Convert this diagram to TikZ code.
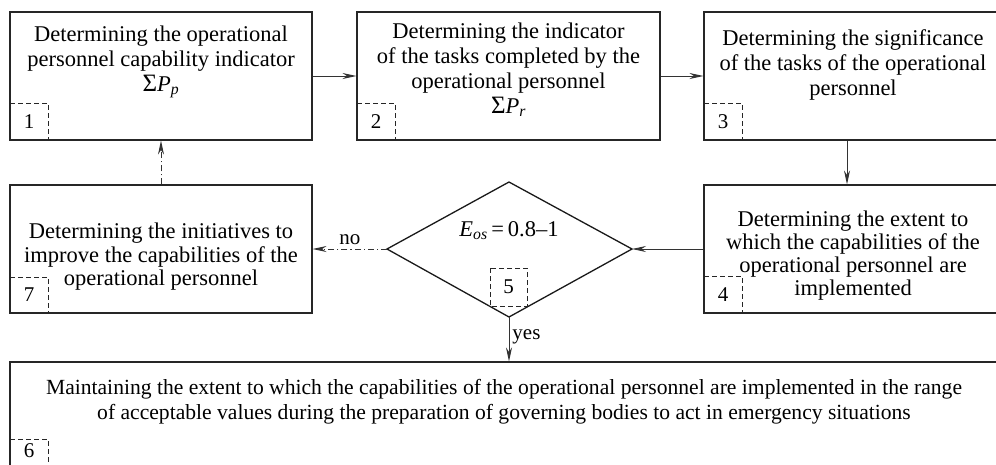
\documentclass[tikz,border=0pt]{standalone}
\usepackage{fontspec}
\setmainfont{Liberation Serif}
\usetikzlibrary{arrows.meta}
\tikzset{
  box/.style={draw=black!85, line width=1.1pt, inner sep=0pt, fill=none},
  txt/.style={align=center, inner sep=0pt, font=\fontsize{22.5}{25}\selectfont},
  numbox/.style={draw=black!85, line width=0.9pt, dash pattern=on 5pt off 3pt},
  num/.style={inner sep=0pt, font=\fontsize{21}{24}\selectfont},
  conn/.style={draw=black!80, line width=0.9pt, -{Stealth[length=14pt,width=6pt]}},
  dashdot/.style={dash pattern=on 6pt off 3pt on 1.2pt off 3pt},
  lbl/.style={inner sep=0pt, font=\fontsize{21}{24}\selectfont},
}
\begin{document}
\begin{tikzpicture}[x=1pt,y=-1pt]
\useasboundingbox (0,0) rectangle (996,464);
\begin{scope}
\clip (0,0) rectangle (996,464);
% main boxes
\node[box, minimum width=302pt, minimum height=128pt] (b1) at (161,76) {};
\node[box, minimum width=303pt, minimum height=128pt] (b2) at (508.5,76) {};
\node[box, minimum width=298pt, minimum height=128pt] (b3) at (853,76) {};
\node[box, minimum width=298pt, minimum height=128pt] (b4) at (853,249) {};
\node[box, minimum width=302pt, minimum height=128pt] (b7) at (161,249) {};
\node[box, minimum width=988pt, minimum height=130pt] (b6) at (504,427) {};
% diamond
\coordinate (dl) at (387,249);
\coordinate (dr) at (632,249);
\coordinate (dt) at (509,182);
\coordinate (db) at (509,317);
\draw[draw=black!90, line width=1.3pt, line join=miter] (dl) -- (dt) -- (dr) -- (db) -- cycle;
% texts
\node[txt] (t1) at (161,62) {Determining the operational\\personnel capability indicator\\{\fontsize{25}{25}\selectfont Σ}{\itshape P}\textsubscript{\itshape p}};
\node[txt] (t2) at (508.5,70) {Determining the indicator\\of the tasks completed by the\\operational personnel\\{\fontsize{25}{25}\selectfont Σ}{\itshape P}\textsubscript{\itshape r}};
\node[txt] (t3) at (853,65) {Determining the significance\\of the tasks of the operational\\personnel};
\node[txt, font=\fontsize{22.5}{23}\selectfont] (t4) at (853,256) {Determining the extent to\\which the capabilities of the\\operational personnel are\\implemented};
\node[txt, font=\fontsize{22.5}{23.5}\selectfont] (t7) at (161,257) {Determining the initiatives to\\improve the capabilities of the\\operational personnel};
\node[txt, font=\fontsize{21.6}{25}\selectfont] (t6) at (504,402) {Maintaining the extent to which the capabilities of the operational personnel are implemented in the range\\of acceptable values during the preparation of governing bodies to act in emergency situations};
\node[txt] (t5) at (509,231) {{\itshape E}\textsubscript{\itshape os}\,=\,0.8--1};
% numbered dashed boxes
\draw[numbox] (10,103) -- (48,103) -- (48,140);
\node[num] (n1) at (29,122) {1};
\draw[numbox] (357,103) -- (395,103) -- (395,140);
\node[num] (n2) at (376,122) {2};
\draw[numbox] (704,103) -- (742,103) -- (742,140);
\node[num] (n3) at (723,122) {3};
\draw[numbox] (704,276) -- (742,276) -- (742,313);
\node[num] (n4) at (723,295) {4};
\draw[numbox] (10,277) -- (48,277) -- (48,313);
\node[num] (n7) at (29,295) {7};
\draw[numbox] (10,439) -- (48,439) -- (48,470);
\node[num] (n6) at (29,451) {6};
\draw[numbox] (490,268) rectangle (527,306);
\node[num] (n5) at (508.5,287) {5};
% connectors
\draw[conn] (b1.east) -- (b2.west);
\draw[conn] (b2.east) -- (b3.west);
\draw[conn] (b3.south -| 847,0) -- (b4.north -| 847,0);
\draw[conn] (b4.west) -- (dr);
\draw[conn, dashdot] (dl) -- (b7.east) node[lbl, pos=0.5, above=4pt] (no) {no};
\draw[conn, dashdot] (b7.north) -- (b1.south);
\draw[conn] (db) -- (b6.north -| db) node[lbl, pos=0.45, right=3pt] (yes) {yes};
\end{scope}
\end{tikzpicture}
\end{document}
